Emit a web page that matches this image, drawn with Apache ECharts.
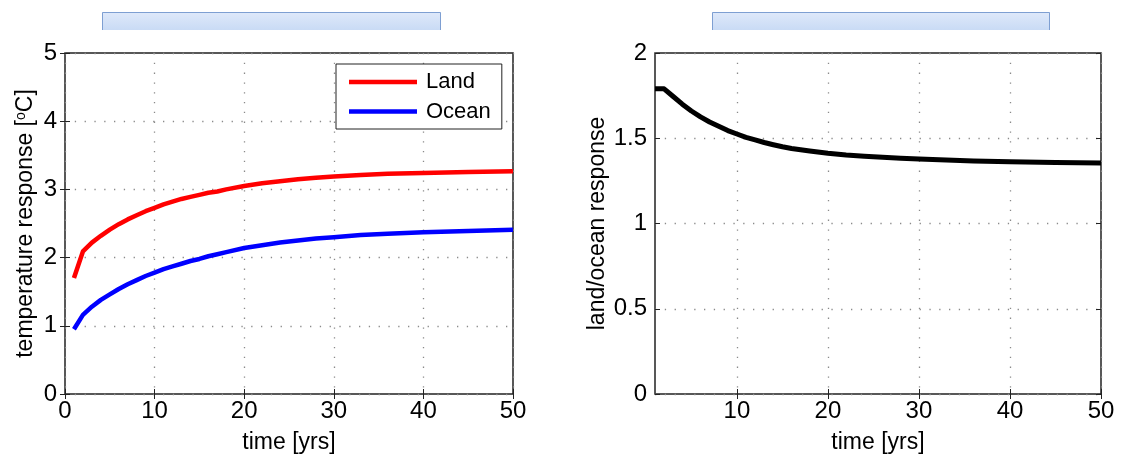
<!DOCTYPE html>
<html><head><meta charset="utf-8">
<script src="https://cdn.jsdelivr.net/npm/echarts@6/dist/echarts.min.js"></script>
<style>html,body{margin:0;padding:0;background:#fff}#c{width:1125px;height:459px}</style>
</head><body><div id="c"></div>
<script>
const time  = [1,2,3,4,5,6,7,8,9,10,11,12,13,14,15,16,17,18,20,22,24,26,28,30,33,36,40,45,50];
const land  = [1.70,2.09,2.22,2.32,2.41,2.49,2.56,2.62,2.68,2.73,2.78,2.82,2.86,2.89,2.92,2.95,2.97,3.00,3.05,3.09,3.12,3.15,3.17,3.19,3.21,3.23,3.24,3.255,3.265];
const ocean = [0.95,1.16,1.28,1.38,1.46,1.54,1.61,1.67,1.73,1.78,1.83,1.87,1.91,1.95,1.98,2.02,2.05,2.08,2.14,2.18,2.22,2.25,2.28,2.30,2.33,2.35,2.37,2.39,2.41];
const ratio = [1.79,1.79,1.745,1.70,1.66,1.625,1.595,1.57,1.545,1.525,1.505,1.49,1.475,1.462,1.45,1.44,1.432,1.425,1.412,1.402,1.395,1.388,1.383,1.378,1.372,1.367,1.362,1.358,1.355];
const xTicksRight = [10,20,30,40,50];
const seriesNames = ['Land','Ocean'];
const xName = 'time [yrs]';
const yNameLeft = 'temperature response [{sup|o}C]';
const yNameRight = 'land/ocean response';

const FONT = 'Liberation Sans';
const chart = echarts.init(document.getElementById('c'));
const dotted = {show:true, lineStyle:{color:'#8a8a8a', width:1.3, type:[1.3,8.5]}};
const lab = {color:'#000', fontFamily:FONT, fontSize:24};
const tick = {show:true, inside:true, length:5, lineStyle:{color:'#222', width:1}};
const nameStyle = {color:'#000', fontFamily:FONT, fontSize:23};

function frameAxis(extra){ return Object.assign({axisLine:{show:false}, axisLabel:{show:false}, splitLine:{show:false}, axisTick:tick}, extra); }

const option = {
  animation:false,
  backgroundColor:'#fff',
  grid:[
    {left:65, right:612, top:53, bottom:63, show:true, borderColor:'#222', borderWidth:1.5, backgroundColor:'transparent'},
    {left:655, right:24, top:53, bottom:63, show:true, borderColor:'#222', borderWidth:1.5, backgroundColor:'transparent'}
  ],
  legend:{
    data:seriesNames.map(n=>({name:n, icon:'rect'})), orient:'vertical', left:336, top:64,
    padding:[5,11,4.5,13], itemWidth:68, itemHeight:4.5, itemGap:3.5,
    borderColor:'#222', borderWidth:1, backgroundColor:'#fff',
    textStyle:{color:'#000', fontFamily:FONT, fontSize:22, lineHeight:26, padding:[0,0,0,4]}
  },
  xAxis:[
    {type:'value', gridIndex:0, min:0, max:50, interval:10, axisLine:{show:false}, axisTick:tick, axisLabel:Object.assign({margin:5}, lab), splitLine:dotted,
     name:xName, nameLocation:'middle', nameGap:37, nameTextStyle:nameStyle},
    {type:'value', gridIndex:1, min:1, max:50, axisLine:{show:false},
     axisTick:Object.assign({customValues:xTicksRight}, tick),
     axisLabel:Object.assign({margin:5, customValues:xTicksRight}, lab), splitLine:dotted,
     name:xName, nameLocation:'middle', nameGap:37, nameTextStyle:nameStyle},
    frameAxis({type:'value', gridIndex:0, position:'top', min:0, max:50, interval:10}),
    frameAxis({type:'value', gridIndex:1, position:'top', min:1, max:50, axisTick:Object.assign({customValues:xTicksRight}, tick)})
  ],
  yAxis:[
    {type:'value', gridIndex:0, min:0, max:5, interval:1, axisLine:{show:false}, axisTick:tick, axisLabel:Object.assign({margin:8}, lab), splitLine:dotted,
     name:yNameLeft, nameLocation:'middle', nameGap:27, nameRotate:90,
     nameTextStyle:Object.assign({rich:{sup:{fontFamily:FONT, fontSize:14, verticalAlign:'top', padding:[0,0,10,0]}}}, nameStyle)},
    {type:'value', gridIndex:1, min:0, max:2, interval:0.5, axisLine:{show:false}, axisTick:tick, axisLabel:Object.assign({margin:8}, lab), splitLine:dotted,
     name:yNameRight, nameLocation:'middle', nameGap:46, nameRotate:90, nameTextStyle:nameStyle},
    frameAxis({type:'value', gridIndex:0, position:'right', min:0, max:5, interval:1}),
    frameAxis({type:'value', gridIndex:1, position:'right', min:0, max:2, interval:0.5})
  ],
  series:[
    {name:'Land', type:'line', xAxisIndex:0, yAxisIndex:0, data:time.map((t,i)=>[t,land[i]]), symbol:'none',
     lineStyle:{color:'#ff0000', width:4.5, join:'round'}, itemStyle:{color:'#ff0000'}},
    {name:'Ocean', type:'line', xAxisIndex:0, yAxisIndex:0, data:time.map((t,i)=>[t,ocean[i]]), symbol:'none',
     lineStyle:{color:'#0000ff', width:4.5, join:'round'}, itemStyle:{color:'#0000ff'}},
    {name:'ratio', type:'line', xAxisIndex:1, yAxisIndex:1, data:time.map((t,i)=>[t,ratio[i]]), symbol:'none',
     lineStyle:{color:'#000', width:5, join:'round'}, itemStyle:{color:'#000'}}
  ],
  graphic:[
    {type:'rect', left:102, top:12, shape:{width:339, height:18}, style:{fill:new echarts.graphic.LinearGradient(0,0,0,1,[{offset:0,color:'#dfe9fa'},{offset:1,color:'#c9dbf5'}])}},
    {type:'polyline', shape:{points:[[102.5,30],[102.5,12.5],[440.5,12.5],[440.5,30]]}, style:{stroke:'#7e9fd2', lineWidth:1, fill:null}},
    {type:'rect', left:712, top:12, shape:{width:338, height:18}, style:{fill:new echarts.graphic.LinearGradient(0,0,0,1,[{offset:0,color:'#dfe9fa'},{offset:1,color:'#c9dbf5'}])}},
    {type:'polyline', shape:{points:[[712.5,30],[712.5,12.5],[1049.5,12.5],[1049.5,30]]}, style:{stroke:'#7e9fd2', lineWidth:1, fill:null}}
  ]
};
chart.setOption(option);
</script></body></html>
